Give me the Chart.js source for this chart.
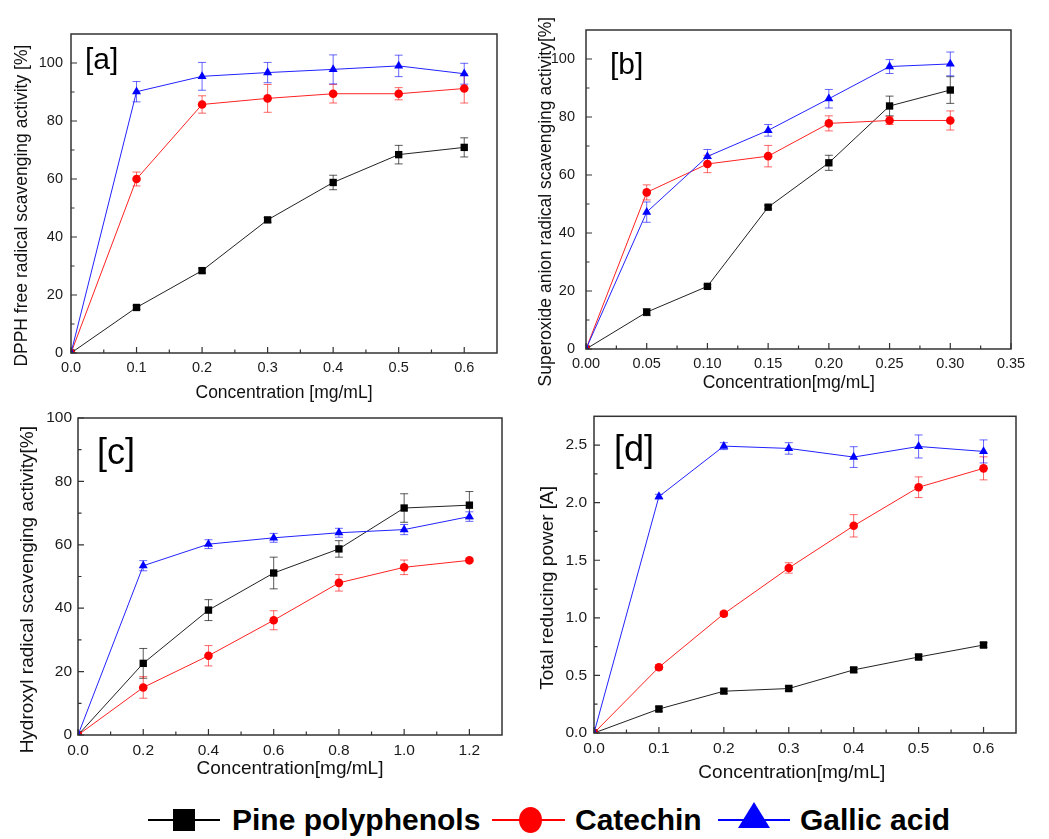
<!DOCTYPE html>
<html lang="en">
<head>
<meta charset="UTF-8">
<title>Antioxidant activity of pine polyphenols</title>
<script src="https://cdn.jsdelivr.net/npm/chart.js"></script>
<style>
  body {
    margin: 0;
    background: #fff;
    width: 1049px;
    height: 839px;
    position: relative;
    overflow: hidden;
    font-family: Arial, 'Liberation Sans', sans-serif;
  }
  canvas.panel { position: absolute; }
  .leg { position: absolute; }
  .leg-line { position: absolute; height: 2px; }
  .leg-text {
    position: absolute;
    font-weight: bold;
    font-size: 30px;
    line-height: 30px;
    color: #000;
    white-space: nowrap;
  }
</style>
</head>
<body>

<canvas id="panelA" class="panel"></canvas>
<canvas id="panelB" class="panel"></canvas>
<canvas id="panelC" class="panel"></canvas>
<canvas id="panelD" class="panel"></canvas>

<!-- shared legend -->
<div class="leg-line" style="left:148px; top:819px; width:72px; background:#000;"></div>
<div class="leg" style="left:173px; top:809px; width:22px; height:22px; background:#000;"></div>
<div class="leg-text" style="left:232px; top:805px;">Pine polyphenols</div>

<div class="leg-line" style="left:492px; top:819px; width:73px; background:#f00;"></div>
<div class="leg" style="left:519px; top:807px; width:23px; height:26px; border-radius:50%; background:#f00;"></div>
<div class="leg-text" style="left:575px; top:805px;">Catechin</div>

<div class="leg-line" style="left:718px; top:819px; width:72px; background:#00f;"></div>
<div class="leg" style="left:738px; top:802px; width:0; height:0; border-left:16px solid transparent; border-right:16px solid transparent; border-bottom:26px solid #00f;"></div>
<div class="leg-text" style="left:800px; top:805px;">Gallic acid</div>

<script>
  // ---- [a] DPPH free radical scavenging ----
  const concA = [0, 0.1, 0.2, 0.3, 0.4, 0.5, 0.6];
  const pineA = [0, 15.7, 28.4, 45.9, 58.8, 68.4, 70.9];
  const pineAErr = [0, 0.6, 0.8, 0.8, 2.5, 3.2, 3.3];
  const catA = [0, 60.0, 85.7, 87.8, 89.4, 89.4, 91.2];
  const catAErr = [0, 2.4, 3.0, 4.8, 3.2, 2.1, 5.0];
  const galA = [0, 90.1, 95.4, 96.7, 97.8, 99.0, 96.3];
  const galAErr = [0, 3.5, 4.8, 3.5, 5.0, 3.7, 3.6];

  // ---- [b] superoxide anion radical scavenging ----
  const concB = [0, 0.05, 0.10, 0.15, 0.20, 0.25, 0.30];
  const pineB = [0, 12.7, 21.6, 48.9, 64.2, 83.8, 89.3];
  const pineBErr = [0, 1.2, 0.5, 0.6, 2.6, 3.4, 4.6];
  const catB = [0, 54.0, 63.8, 66.5, 77.8, 78.8, 78.8];
  const catBErr = [0, 2.6, 3.0, 3.7, 2.6, 1.4, 3.3];
  const galB = [0, 47.2, 66.4, 75.4, 86.3, 97.4, 98.3];
  const galBErr = [0, 3.5, 2.4, 2.0, 3.2, 2.4, 4.1];

  // ---- [c] hydroxyl radical scavenging ----
  const concC = [0, 0.2, 0.4, 0.6, 0.8, 1.0, 1.2];
  const pineC = [0, 22.6, 39.4, 51.1, 58.7, 71.6, 72.5];
  const pineCErr = [0, 4.7, 3.3, 5.0, 2.6, 4.5, 4.3];
  const catC = [0, 15.0, 25.0, 36.2, 48.0, 52.9, 55.1];
  const catCErr = [0, 3.4, 3.2, 3.0, 2.6, 2.3, 0.5];
  const galC = [0, 53.4, 60.2, 62.2, 63.8, 64.8, 68.9];
  const galCErr = [0, 1.6, 1.4, 1.4, 1.4, 1.6, 1.5];

  // ---- [d] total reducing power ----
  const concD = [0, 0.1, 0.2, 0.3, 0.4, 0.5, 0.6];
  const pineD = [0, 0.208, 0.363, 0.386, 0.548, 0.660, 0.764];
  const pineDErr = [0, 0.02, 0.02, 0.02, 0.02, 0.02, 0.02];
  const catD = [0, 0.571, 1.035, 1.433, 1.799, 2.134, 2.298];
  const catDErr = [0, 0.02, 0.02, 0.045, 0.097, 0.09, 0.1];
  const galD = [0, 2.053, 2.491, 2.471, 2.396, 2.488, 2.445];
  const galDErr = [0, 0.02, 0.03, 0.05, 0.09, 0.1, 0.1];

  // tick values
  const xTicksA = [0, 0.1, 0.2, 0.3, 0.4, 0.5, 0.6];
  const xMinorA = [0.05, 0.15, 0.25, 0.35, 0.45, 0.55];
  const xTicksB = [0, 0.05, 0.10, 0.15, 0.20, 0.25, 0.30, 0.35];
  const xMinorB = [0.025, 0.075, 0.125, 0.175, 0.225, 0.275, 0.325];
  const xTicksC = [0, 0.2, 0.4, 0.6, 0.8, 1.0, 1.2];
  const xMinorC = [0.1, 0.3, 0.5, 0.7, 0.9, 1.1];
  const yTicksPct = [0, 20, 40, 60, 80, 100];
  const yMinorPct = [10, 30, 50, 70, 90];
  const yTicksD = [0, 0.5, 1.0, 1.5, 2.0, 2.5];
  const yMinorD = [0.25, 0.75, 1.25, 1.75, 2.25];

  const seriesNames = ['Pine polyphenols', 'Catechin', 'Gallic acid'];

  Chart.defaults.font.family = "Arial, 'Liberation Sans', sans-serif";

  const AXIS = '#333';

  // frame, inward ticks, panel letter and error bars
  const panelDecor = {
    id: 'panelDecor',
    beforeDatasetsDraw(chart, args, opts) {
      const ctx = chart.ctx;
      const xs = chart.scales.x, ys = chart.scales.y;
      ctx.save();
      ctx.lineWidth = 1;
      chart.data.datasets.forEach((ds, di) => {
        const meta = chart.getDatasetMeta(di);
        ctx.strokeStyle = ds.errColor;
        ds.data.forEach((p, i) => {
          const e = ds.errors[i];
          if (!e) return;
          const x = meta.data[i].x;
          const yTop = ys.getPixelForValue(p.y + e);
          const yBot = ys.getPixelForValue(p.y - e);
          ctx.beginPath();
          ctx.moveTo(x, yTop); ctx.lineTo(x, yBot);
          ctx.moveTo(x - 4, yTop); ctx.lineTo(x + 4, yTop);
          ctx.moveTo(x - 4, yBot); ctx.lineTo(x + 4, yBot);
          ctx.stroke();
        });
      });
      ctx.restore();
    },
    afterDraw(chart, args, opts) {
      const ctx = chart.ctx;
      const a = chart.chartArea;
      const xs = chart.scales.x, ys = chart.scales.y;
      ctx.save();
      ctx.strokeStyle = AXIS;
      ctx.lineWidth = 1.5;
      ctx.strokeRect(a.left, a.top, a.right - a.left, a.bottom - a.top);
      ctx.lineWidth = 1.2;
      ctx.beginPath();
      opts.xMajor.forEach(v => {
        const x = xs.getPixelForValue(v);
        ctx.moveTo(x, a.bottom); ctx.lineTo(x, a.bottom - 6);
      });
      opts.xMinor.forEach(v => {
        const x = xs.getPixelForValue(v);
        ctx.moveTo(x, a.bottom); ctx.lineTo(x, a.bottom - 3.5);
      });
      opts.yMajor.forEach(v => {
        const y = ys.getPixelForValue(v);
        ctx.moveTo(a.left, y); ctx.lineTo(a.left + 6, y);
      });
      opts.yMinor.forEach(v => {
        const y = ys.getPixelForValue(v);
        ctx.moveTo(a.left, y); ctx.lineTo(a.left + 3.5, y);
      });
      ctx.stroke();
      ctx.fillStyle = '#000';
      ctx.font = opts.labelSize + "px Arial, 'Liberation Sans', sans-serif";
      ctx.textBaseline = 'alphabetic';
      ctx.textAlign = 'left';
      ctx.fillText(opts.label, a.left + opts.labelDx, a.top + opts.labelDy);
      ctx.restore();
    }
  };

  function makeDataset(i, xs, ys, errs) {
    const styles = [
      { c: '#000', line: '#222', err: 'rgba(0,0,0,0.65)', pt: 'rect', r: 5.2 },
      { c: '#f00', line: '#f22', err: 'rgba(255,0,0,0.6)', pt: 'circle', r: 4.3 },
      { c: '#00f', line: '#22f', err: 'rgba(0,0,255,0.6)', pt: 'triangle', r: 5.2 }
    ][i];
    return {
      label: seriesNames[i],
      data: xs.map((x, k) => ({ x: x, y: ys[k] })),
      errors: errs,
      errColor: styles.err,
      borderColor: styles.line,
      borderWidth: 1,
      backgroundColor: styles.c,
      pointBackgroundColor: styles.c,
      pointBorderColor: styles.c,
      pointBorderWidth: 0,
      pointStyle: styles.pt,
      pointRadius: styles.r,
      tension: 0,
      clip: 0,
      order: 3 - i
    };
  }

  function makePanel(id, p) {
    const canvas = document.getElementById(id);
    canvas.width = p.w;
    canvas.height = p.h;
    canvas.style.left = p.left + 'px';
    canvas.style.top = p.top + 'px';
    new Chart(canvas, {
      type: 'line',
      data: {
        datasets: [
          makeDataset(0, p.xs, p.series[0], p.errs[0]),
          makeDataset(1, p.xs, p.series[1], p.errs[1]),
          makeDataset(2, p.xs, p.series[2], p.errs[2])
        ]
      },
      options: {
        responsive: false,
        animation: false,
        devicePixelRatio: 1,
        layout: {
          padding: { left: 0, bottom: 0, top: p.area.top - p.top, right: p.left + p.w - p.area.right }
        },
        plugins: {
          legend: { display: false },
          tooltip: { enabled: false },
          panelDecor: {
            label: p.label, labelSize: p.labelSize, labelDx: p.labelDx, labelDy: p.labelDy,
            xMajor: p.xTicks, xMinor: p.xMinor, yMajor: p.yTicks, yMinor: p.yMinor
          }
        },
        scales: {
          x: {
            type: 'linear',
            min: p.xMin, max: p.xMax,
            grid: { display: false, drawTicks: false },
            border: { display: false },
            afterBuildTicks: s => { s.ticks = p.xTicks.map(v => ({ value: v })); },
            afterFit: s => { s.height = p.top + p.h - p.area.bottom; },
            ticks: {
              padding: 6,
              color: '#1a1a1a',
              font: { size: p.tickSize },
              maxRotation: 0,
              callback: v => v.toFixed(p.xDigits)
            },
            title: {
              display: true, text: p.xTitle, color: '#111',
              font: { size: p.titleSize }, padding: 0
            }
          },
          y: {
            min: 0, max: p.yMax,
            grid: { display: false, drawTicks: false },
            border: { display: false },
            afterBuildTicks: s => { s.ticks = p.yTicks.map(v => ({ value: v })); },
            afterFit: s => { s.width = p.area.left - p.left; },
            ticks: {
              padding: p.yPad,
              color: '#1a1a1a',
              font: { size: p.tickSize },
              callback: v => v.toFixed(p.yDigits)
            },
            title: {
              display: true, text: p.yTitle, color: '#111',
              font: { size: p.titleSize }, padding: 0
            }
          }
        }
      },
      plugins: [panelDecor]
    });
  }

  const NB = '\u00a0';

  makePanel('panelA', {
    left: 12, top: 0, w: 508, h: 404,
    area: { left: 71, top: 34, right: 497, bottom: 353 },
    xs: concA, series: [pineA, catA, galA], errs: [pineAErr, catAErr, galAErr],
    xMin: 0, xMax: 0.65, yMax: 110,
    xTicks: xTicksA, xMinor: xMinorA, yTicks: yTicksPct, yMinor: yMinorPct,
    xDigits: 1, yDigits: 0, yPad: 8,
    tickSize: 14.5, titleSize: 17.5,
    xTitle: 'Concentration [mg/mL]',
    yTitle: 'DPPH free radical scavenging activity [%]' + NB.repeat(5),
    label: '[a]', labelSize: 30, labelDx: 14, labelDy: 35
  });

  makePanel('panelB', {
    left: 536, top: 0, w: 509, h: 394,
    area: { left: 586, top: 30, right: 1011, bottom: 349 },
    xs: concB, series: [pineB, catB, galB], errs: [pineBErr, catBErr, galBErr],
    xMin: 0, xMax: 0.35, yMax: 110,
    xTicks: xTicksB, xMinor: xMinorB, yTicks: yTicksPct, yMinor: yMinorPct,
    xDigits: 2, yDigits: 0, yPad: 11,
    tickSize: 14.5, titleSize: 17.5,
    xTitle: 'Concentration[mg/mL]' + NB.repeat(4),
    yTitle: 'Superoxide anion radical scavenging activity[%]' + NB.repeat(5),
    label: '[b]', labelSize: 30, labelDx: 24, labelDy: 44
  });

  makePanel('panelC', {
    left: 16, top: 400, w: 504, h: 380,
    area: { left: 78, top: 418, right: 502, bottom: 735 },
    xs: concC, series: [pineC, catC, galC], errs: [pineCErr, catCErr, galCErr],
    xMin: 0, xMax: 1.3, yMax: 100,
    xTicks: xTicksC, xMinor: xMinorC, yTicks: yTicksPct, yMinor: yMinorPct,
    xDigits: 1, yDigits: 0, yPad: 6,
    tickSize: 15.5, titleSize: 19,
    xTitle: 'Concentration[mg/mL]',
    yTitle: 'Hydroxyl radical scavenging activity[%]' + NB.repeat(5),
    label: '[c]', labelSize: 36, labelDx: 19, labelDy: 46
  });

  makePanel('panelD', {
    left: 536, top: 400, w: 509, h: 384,
    area: { left: 594, top: 415, right: 1016, bottom: 733 },
    xs: concD, series: [pineD, catD, galD], errs: [pineDErr, catDErr, galDErr],
    xMin: 0, xMax: 0.65, yMax: 2.75,
    xTicks: xTicksA, xMinor: xMinorA, yTicks: yTicksD, yMinor: yMinorD,
    xDigits: 1, yDigits: 1, yPad: 7,
    tickSize: 15.5, titleSize: 19,
    xTitle: 'Concentration[mg/mL]' + NB.repeat(5),
    yTitle: 'Total reducing power [A]' + NB.repeat(5),
    label: '[d]', labelSize: 36, labelDx: 20, labelDy: 45
  });
</script>
</body>
</html>
